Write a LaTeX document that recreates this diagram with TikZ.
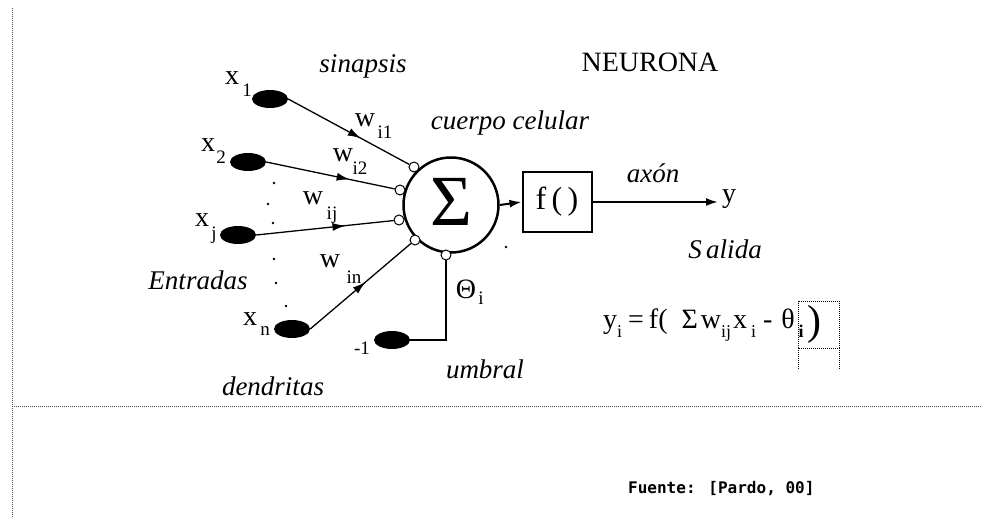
\documentclass[tikz,border=0pt]{standalone}
\usepackage{fontspec}
\setmainfont{Liberation Serif}
\newfontfamily\fuentefont{DejaVu Sans Mono}
\usetikzlibrary{arrows.meta,shapes.geometric,decorations.markings}
\newcommand{\fsz}[1]{\fontsize{#1}{#1}\selectfont}
\newcommand{\lowsub}[1]{\raisebox{-0.35em}{\fsz{18}#1}}
\begin{document}
\begin{tikzpicture}[x=1pt,y=-1pt,
  inp/.style={ellipse, fill=black, minimum width=36pt, minimum height=18pt, inner sep=0pt},
  syn/.style={circle, draw, fill=white, line width=1pt, minimum size=10pt, inner sep=0pt},
  lbl/.style={inner sep=0pt, font=\fsz{28}},
  ilbl/.style={inner sep=0pt, font=\fsz{27}\itshape},
  sublbl/.style={inner sep=0pt, font=\fsz{19}},
  wire/.style={line width=1.3pt},
  tip/.style={-{Latex[length=12pt,width=8pt]}},
  midarrow/.style={postaction={decorate}, decoration={markings, mark=at position #1 with {\arrow{Latex[length=13pt,width=8pt]}}}},
  dotpt/.style={circle, fill=black, inner sep=0pt, minimum size=2.8pt},
  border/.style={line width=1pt, draw=black!70, dash pattern=on 1pt off 1pt}
]
\useasboundingbox (0,0) rectangle (982,518);
\fill[white] (0,0) rectangle (982,518);

% borders
\coordinate (bTop) at (12,8);
\coordinate (bBot) at (12,518);
\coordinate (hL) at (12,406);
\coordinate (hR) at (982,406);
\draw[border] (bTop) -- (bBot);
\draw[border] (hL) -- (hR);

% inputs
\node[inp] (x1) at (270,99) {};
\node[inp] (x2) at (248,162) {};
\node[inp] (xj) at (238,235) {};
\node[inp] (xn) at (292,329) {};
\node[inp] (m1) at (392,340) {};

% body
\node[circle, draw, line width=2.5pt, minimum size=95pt, inner sep=0pt, font=\fsz{72}] (sum) at (451,205) {\raisebox{0.08em}{Σ}};
\node[syn] (s1) at (414,167) {};
\node[syn] (s2) at (400,190) {};
\node[syn] (s3) at (399,220) {};
\node[syn] (s4) at (415,240) {};
\node[syn] (s5) at (446,255) {};

\draw[wire, midarrow=0.6] (x1.east) -- (s1);
\draw[wire, midarrow=0.65] (x2.east) -- (s2);
\draw[wire, midarrow=0.65] (xj.east) -- (s3);
\draw[wire, midarrow=0.55] (xn.east) -- (s4);
\draw[wire] (s5.south) |- (m1.east);

% activation
\node[draw, line width=2pt, minimum width=69pt, minimum height=60pt, inner sep=0pt, font=\fsz{32}] (fbox) at (557,202) {f\,(\,)};
\draw[line width=2pt, tip] (sum.east) -- (fbox.west);
\coordinate (yout) at (718,202);
\draw[line width=2pt, tip] (fbox.east) -- (yout);
\node[lbl, anchor=west] (ylab) at (722,199) {y};

% dots
\node[dotpt] (d1) at (274,183) {};
\node[dotpt] (d2) at (268,204) {};
\node[dotpt] (d3) at (273,223) {};
\node[dotpt] (d4) at (274,259) {};
\node[dotpt] (d5) at (276,283) {};
\node[dotpt] (d6) at (286,306) {};
\node[dotpt] (d7) at (506,247) {};

% input labels
\node[lbl] (tx1) at (232,78) {x};
\node[sublbl] (tx1s) at (247,90) {1};
\node[lbl] (tx2) at (208,145) {x};
\node[sublbl] (tx2s) at (221,157) {2};
\node[lbl] (txj) at (202,220) {x};
\node[sublbl] (txjs) at (214,235) {j};
\node[lbl] (txn) at (250,319) {x};
\node[sublbl] (txns) at (265,331) {n};
\node[sublbl] (tm1) at (362,348) {-1};

% weights
\node[lbl] (w1) at (365,120) {w};
\node[sublbl] (w1s) at (385,132) {i1};
\node[lbl] (w2) at (343,155) {w};
\node[sublbl] (w2s) at (360,168) {i2};
\node[lbl] (wj) at (313,198) {w};
\node[sublbl] (wjs) at (332,215) {ij};
\node[lbl] (wn) at (330,261) {w};
\node[sublbl] (wns) at (354,277) {in};
\node[lbl] (th) at (466,289) {Θ};
\node[sublbl] (ths) at (481,298) {i};

% texts
\node[ilbl] (sinap) at (363,66) {sinapsis};
\node[ilbl] (cuerpo) at (510,123) {cuerpo celular};
\node[lbl] (neur) at (650,62) {NEURONA};
\node[ilbl] (axon) at (653,173) {axón};
\node[ilbl] (salida) at (725,249) {S\,alida};
\node[ilbl] (entr) at (198,280) {Entradas};
\node[ilbl] (dend) at (273,386) {dendritas};
\node[ilbl] (umbr) at (485,369) {umbral};

% formula
\node[inner sep=0pt, anchor=west, font=\fsz{28}] (formula) at (603,325)
  {y\lowsub{i}\hspace{6pt}=\hspace{5pt}f(\hspace{14pt}Σ\hspace{3pt}w\lowsub{ij}\hspace{2pt}x\lowsub{\hspace{4pt}i}\hspace{7pt}-\hspace{9pt}θ};
\node[inner sep=0pt, font=\fsz{18}\bfseries] (fi) at (801,331) {i};
\node[inner sep=0pt, font=\fsz{42}] (fpar) at (814,324) {)};
\coordinate (c1) at (798,301);
\coordinate (c2) at (839,348);
\coordinate (c3) at (798,370);
\coordinate (c4) at (839,370);
\draw[line width=0.8pt, dash pattern=on 1pt off 1pt] (c1) rectangle (c2);
\draw[line width=0.8pt, dash pattern=on 1pt off 1pt] (c1 |- c2) -- (c3);
\draw[line width=0.8pt, dash pattern=on 1pt off 1pt] (c2) -- (c4);

\node[inner sep=0pt, anchor=west, font=\fuentefont\bfseries\fsz{16}] (fuente) at (628,489) {Fuente: [Pardo, 00]};
\end{tikzpicture}
\end{document}
